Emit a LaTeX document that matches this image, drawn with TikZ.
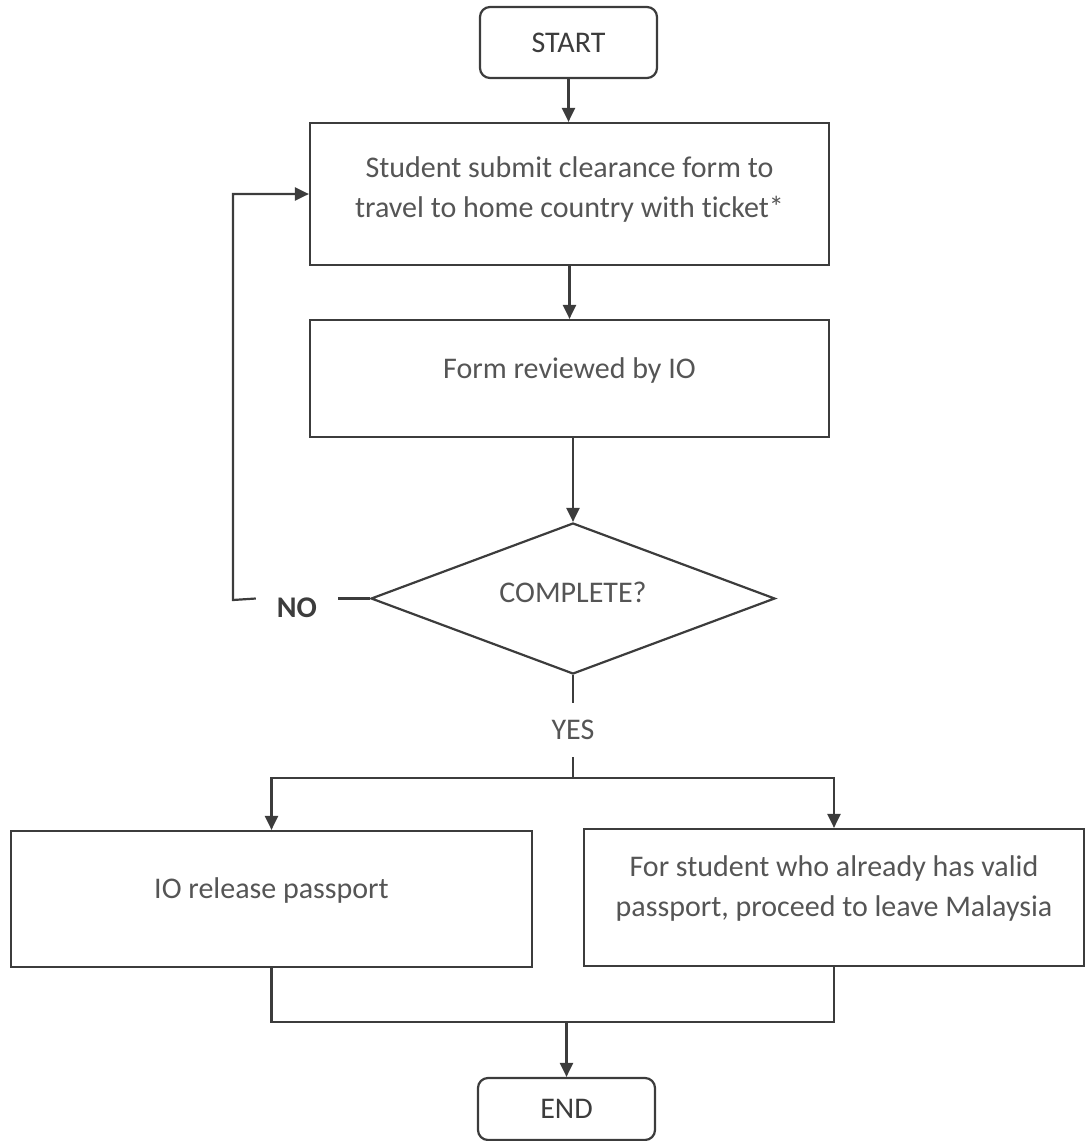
\documentclass[tikz,border=0pt]{standalone}
\usepackage{fontspec}
\setmainfont{Carlito}[Ligatures=NoCommon]
\usetikzlibrary{shapes.geometric}
\usetikzlibrary{arrows.meta}
\definecolor{lin}{HTML}{3C3C3C}
\definecolor{txt}{HTML}{555555}
\newcommand{\liftup}[2][8pt]{\raisebox{#1}[\height][\depth]{#2}}

\begin{document}
\begin{tikzpicture}[x=1pt, y=-1pt,
    every node/.style={font=\fontsize{30}{40}\selectfont, text=txt},
    terminal/.style={draw=lin, line width=2.2pt, rounded corners=10pt, minimum width=177pt, minimum height=71pt, inner sep=0pt, text=lin},
    procbox/.style={draw=lin, line width=2.2pt, minimum width=519pt, inner sep=0pt},
    decision/.style={draw=lin, line width=2.2pt, diamond, aspect=2.68, minimum width=404pt, minimum height=151pt, inner sep=0pt},
    arr/.style={draw=lin, line width=2.2pt, -{Triangle[width=13pt,length=14pt]}},
    ln/.style={draw=lin, line width=2.2pt}]
    \useasboundingbox (0,0) rectangle (1086,1141);

    % boxes
    \node[terminal] (start) at (568.5,42.5) {START};
    \node[procbox, minimum height=142pt] (submit) at (569.5,194) {\liftup[5pt]{\begin{tabular}{@{}c@{}}Student submit clearance form to\\travel to home country with ticket*\end{tabular}}};
    \node[procbox, minimum height=117pt] (review) at (569.5,378.5) {\liftup{Form reviewed by IO}};
    \node[decision] (check) at (573,598.5) {\liftup[6pt]{COMPLETE?}};
    \node[font=\bfseries\fontsize{30}{40}\selectfont, text=lin, inner xsep=21pt] (no) at (297,608) {NO};
    \node[inner ysep=17pt] (yes) at (573,730) {YES};
    \node[procbox, minimum width=521pt, minimum height=136pt] (release) at (271.5,899) {\liftup[8.5pt]{IO release passport}};
    \node[procbox, minimum width=500pt, minimum height=137pt] (leave) at (834,897.5) {\liftup[9pt]{\begin{tabular}{@{}c@{}}For student who already has valid\\passport, proceed to leave Malaysia\end{tabular}}};
    \node[terminal, minimum height=62pt] (stop) at (566.5,1109) {END};

    \coordinate (back) at (233,600);
    \coordinate (fork) at (573,778);
    \coordinate (join) at (566.5,1022);

    % connectors
    \draw[arr] (start.south) -- (start.south |- submit.north);
    \draw[arr] (submit.south) -- (review.north);
    \draw[arr] (review.south -| check.north) -- (check.north);
    \draw[ln] (check.west) -- (check.west -| no.east);
    \draw[arr] (check.west -| no.west) -- (back) |- (submit.west);
    \draw[ln] (check.south) -- (yes.north);
    \draw[ln] (yes.south) -- (fork);
    \draw[arr] (fork) -| (release.north);
    \draw[arr] (fork) -| (leave.north);
    \draw[ln] (release.south) |- (join) -| (leave.south);
    \draw[arr] (join) -- (stop.north);
\end{tikzpicture}
\end{document}
